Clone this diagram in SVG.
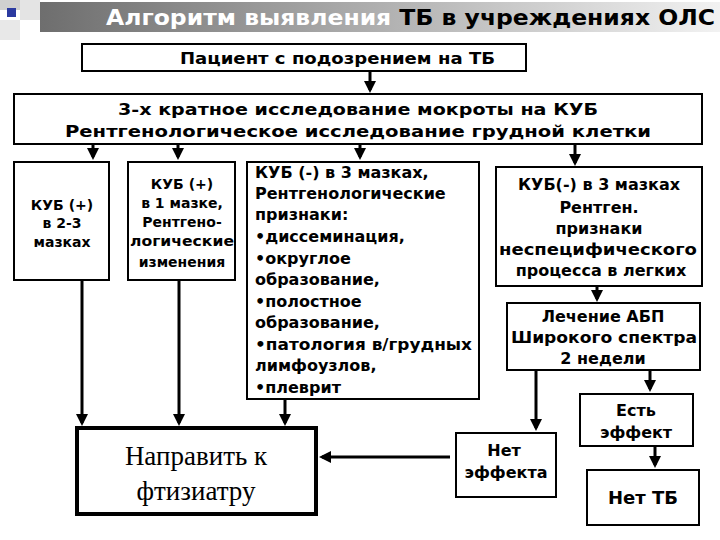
<svg xmlns="http://www.w3.org/2000/svg" width="720" height="540" viewBox="0 0 720 540">
<style>
.b{fill:#fff;stroke:#000;stroke-width:2}
.t{font-family:"DejaVu Sans","Liberation Sans",Arial,sans-serif;font-weight:bold;fill:#000}
.c{stroke:#000;stroke-width:3;fill:none}
</style>
<defs>
<linearGradient id="g" x1="0" x2="1"><stop offset="0" stop-color="#6e6e6e"/><stop offset="0.6" stop-color="#bdbdbd"/><stop offset="1" stop-color="#f2f2f2"/></linearGradient>
<marker id="a" markerWidth="4" markerHeight="4" refX="3" refY="2" orient="auto" markerUnits="strokeWidth"><path d="M0,0L4,2L0,4z" fill="#000"/></marker>
</defs>
<rect width="720" height="540" fill="#fff"/>
<g id="title">
<rect x="0" y="0" width="20" height="10" fill="#d0d0d0"/><rect x="20" y="0" width="20" height="20" fill="#e4e4e4"/>
<rect x="0" y="20" width="20" height="20" fill="#e8e8e8"/><rect x="7" y="8" width="9" height="9" fill="#2b3aa0"/>
<rect x="40" y="2" width="680" height="30" fill="url(#g)"/>
<text x="106" y="25" class="t" font-size="22" textLength="609" lengthAdjust="spacingAndGlyphs"><tspan fill="#fff">Алгоритм выявления </tspan><tspan fill="#000">ТБ в учреждениях ОЛС</tspan></text>
</g>
<g id="connectors">
<path class="c" d="M370,71V90" marker-end="url(#a)"/>
<path class="c" d="M93,144V157" marker-end="url(#a)"/>
<path class="c" d="M178,144V157" marker-end="url(#a)"/>
<path class="c" d="M360,144V157" marker-end="url(#a)"/>
<path class="c" d="M575,144V163" marker-end="url(#a)"/>
<path class="c" d="M597,286V299" marker-end="url(#a)"/>
<path class="c" d="M82,280V423" marker-end="url(#a)"/>
<path class="c" d="M179,280V423" marker-end="url(#a)"/>
<path class="c" d="M285,399V423" marker-end="url(#a)"/>
<path class="c" d="M450,457H322" marker-end="url(#a)"/>
<path class="c" d="M536,370V428" marker-end="url(#a)"/>
<path class="c" d="M650,370V389" marker-end="url(#a)"/>
<path class="c" d="M655,446V465" marker-end="url(#a)"/>
</g>
<g id="n1"><rect class="b" x="82" y="44" width="444" height="27"/><text x="180" y="64" class="t" font-size="16" textLength="315" lengthAdjust="spacingAndGlyphs">Пациент с подозрением на ТБ</text></g>
<g id="n2"><rect class="b" x="14" y="94" width="688" height="50"/>
<text x="118" y="115" class="t" font-size="16" textLength="480" lengthAdjust="spacingAndGlyphs">3-х кратное исследование мокроты на КУБ</text>
<text x="65" y="137" class="t" font-size="16" textLength="586" lengthAdjust="spacingAndGlyphs">Рентгенологическое исследование грудной клетки</text></g>
<g id="nA"><rect class="b" x="14" y="162" width="95" height="118"/>
<text class="t" font-size="14" text-anchor="middle"><tspan x="62" y="210">КУБ (+)</tspan><tspan x="62" y="228">в 2-3</tspan><tspan x="62" y="247">мазках</tspan></text></g>
<g id="nB"><rect class="b" x="128" y="162" width="107" height="118"/>
<text class="t" font-size="14" text-anchor="middle"><tspan x="182" y="189">КУБ (+)</tspan><tspan x="182" y="208">в 1 мазке,</tspan><tspan x="182" y="227">Рентгено-</tspan></text>
<text x="130" y="246" class="t" font-size="14" textLength="104" lengthAdjust="spacingAndGlyphs">логические</text>
<text x="182" y="267" class="t" font-size="14" text-anchor="middle">изменения</text></g>
<g id="nC"><rect class="b" x="247" y="162" width="232" height="237"/>
<text class="t" font-size="16"><tspan x="255" y="178">КУБ (-) в 3 мазках,</tspan><tspan x="255" y="199">Рентгенологические</tspan><tspan x="255" y="220">признаки:</tspan><tspan x="255" y="242">•диссеминация,</tspan><tspan x="255" y="264">•округлое</tspan><tspan x="255" y="285">образование,</tspan><tspan x="255" y="307">•полостное</tspan><tspan x="255" y="328">образование,</tspan></text>
<text x="255" y="350" class="t" font-size="16" textLength="217" lengthAdjust="spacingAndGlyphs">•патология в/грудных</text>
<text class="t" font-size="16"><tspan x="255" y="371">лимфоузлов,</tspan><tspan x="255" y="393">•плеврит</tspan></text></g>
<g id="nD"><rect class="b" x="496" y="167" width="206" height="119"/>
<text class="t" font-size="16" text-anchor="middle"><tspan x="599" y="190">КУБ(-) в 3 мазках</tspan><tspan x="599" y="213">Рентген.</tspan><tspan x="599" y="234">признаки</tspan></text>
<text x="499" y="255" class="t" font-size="16" textLength="198" lengthAdjust="spacingAndGlyphs">неспецифического</text>
<text x="601" y="276" class="t" font-size="16" text-anchor="middle">процесса в легких</text></g>
<g id="nE"><rect class="b" x="507" y="303" width="193" height="67"/>
<text class="t" font-size="16" text-anchor="middle"><tspan x="603" y="322">Лечение АБП</tspan></text>
<text x="511" y="343" class="t" font-size="16" textLength="186" lengthAdjust="spacingAndGlyphs">Широкого спектра</text>
<text x="603" y="364" class="t" font-size="16" text-anchor="middle">2 недели</text></g>
<g id="nF"><rect x="77" y="428" width="239" height="86" fill="#fff" stroke="#000" stroke-width="4"/>
<text font-family="'Liberation Serif','Times New Roman',serif" font-size="27" text-anchor="middle"><tspan x="196" y="465">Направить к</tspan><tspan x="196" y="500">фтизиатру</tspan></text></g>
<g id="nG"><rect class="b" x="456" y="433" width="100" height="64"/>
<text class="t" font-size="16" text-anchor="middle"><tspan x="504" y="456">Нет</tspan><tspan x="506" y="478">эффекта</tspan></text></g>
<g id="nH"><rect class="b" x="580" y="394" width="113" height="52"/>
<text class="t" font-size="16" text-anchor="middle"><tspan x="636" y="416">Есть</tspan><tspan x="636" y="438">эффект</tspan></text></g>
<g id="nI"><rect class="b" x="587" y="470" width="112" height="55"/>
<text x="643" y="504" class="t" font-size="18" text-anchor="middle">Нет ТБ</text></g>
</svg>
